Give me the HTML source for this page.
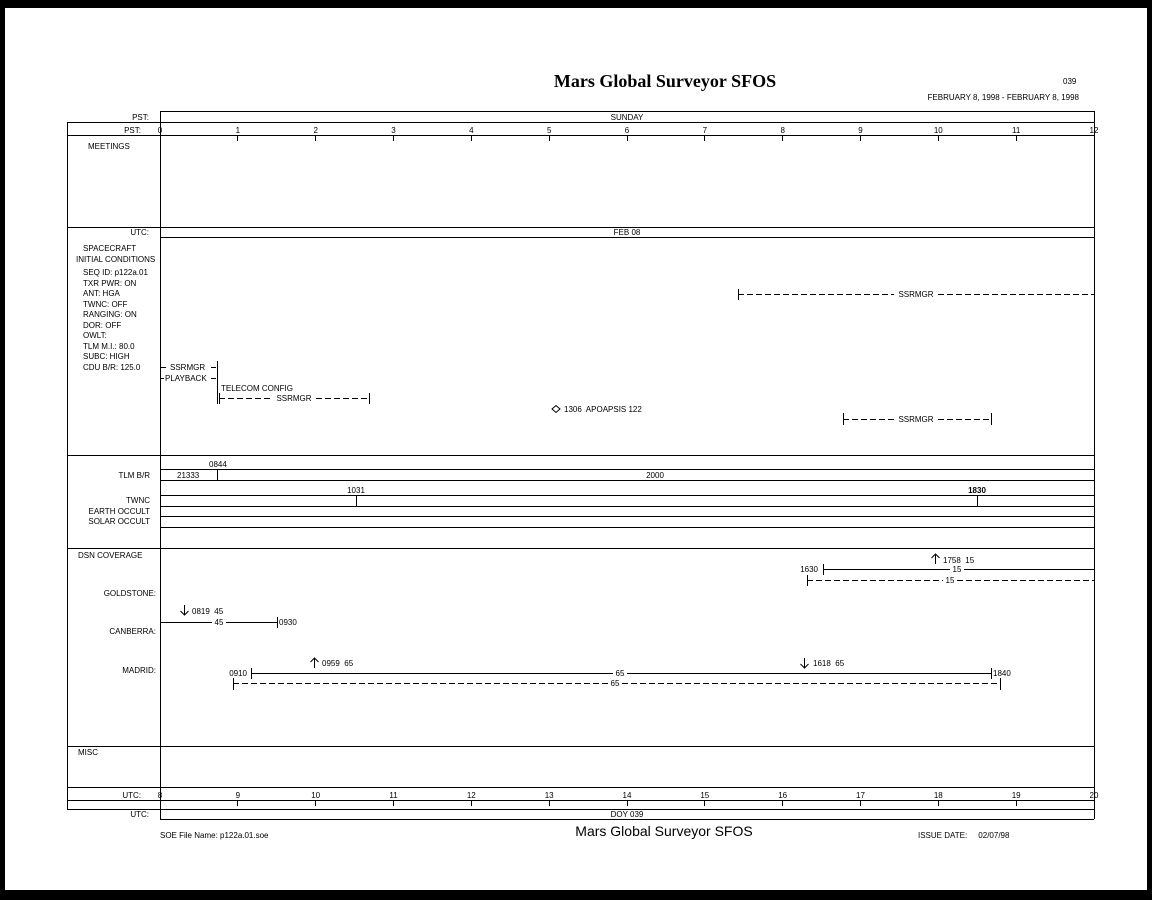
<!DOCTYPE html>
<html><head><meta charset="utf-8"><style>
html,body{margin:0;padding:0;background:#000;}
svg{display:block;}
text{font-family:"Liberation Sans",sans-serif;font-size:8px;fill:#000;white-space:pre;}
</style></head><body>
<svg width="1152" height="900" xmlns="http://www.w3.org/2000/svg" xml:space="preserve">
<rect x="0" y="0" width="1152" height="900" fill="#000"/>
<rect x="5" y="8" width="1142" height="882" fill="#fff"/>
<g stroke="#000" stroke-width="1" fill="none" shape-rendering="crispEdges">
<line x1="67" y1="122.5" x2="1094" y2="122.5"/>
<line x1="67" y1="135.5" x2="1094" y2="135.5"/>
<line x1="67" y1="227.5" x2="1094" y2="227.5"/>
<line x1="67" y1="455.5" x2="1094" y2="455.5"/>
<line x1="67" y1="548.5" x2="1094" y2="548.5"/>
<line x1="67" y1="746.5" x2="1094" y2="746.5"/>
<line x1="67" y1="787.5" x2="1094" y2="787.5"/>
<line x1="67" y1="800.5" x2="1094" y2="800.5"/>
<line x1="67" y1="809.5" x2="1094" y2="809.5"/>
<line x1="160" y1="111.5" x2="1094" y2="111.5"/>
<line x1="160" y1="237.5" x2="1094" y2="237.5"/>
<line x1="160" y1="819.5" x2="1094" y2="819.5"/>
<line x1="67.5" y1="122" x2="67.5" y2="809"/>
<line x1="160.5" y1="111" x2="160.5" y2="819"/>
<line x1="1094.5" y1="111" x2="1094.5" y2="819"/>
<line x1="237.5" y1="135" x2="237.5" y2="141"/><line x1="315.5" y1="135" x2="315.5" y2="141"/>
<line x1="393.5" y1="135" x2="393.5" y2="141"/><line x1="471.5" y1="135" x2="471.5" y2="141"/>
<line x1="549.5" y1="135" x2="549.5" y2="141"/><line x1="627.5" y1="135" x2="627.5" y2="141"/>
<line x1="704.5" y1="135" x2="704.5" y2="141"/><line x1="782.5" y1="135" x2="782.5" y2="141"/>
<line x1="860.5" y1="135" x2="860.5" y2="141"/><line x1="938.5" y1="135" x2="938.5" y2="141"/>
<line x1="1016.5" y1="135" x2="1016.5" y2="141"/>
<line x1="237.5" y1="800" x2="237.5" y2="806"/><line x1="315.5" y1="800" x2="315.5" y2="806"/>
<line x1="393.5" y1="800" x2="393.5" y2="806"/><line x1="471.5" y1="800" x2="471.5" y2="806"/>
<line x1="549.5" y1="800" x2="549.5" y2="806"/><line x1="627.5" y1="800" x2="627.5" y2="806"/>
<line x1="704.5" y1="800" x2="704.5" y2="806"/><line x1="782.5" y1="800" x2="782.5" y2="806"/>
<line x1="860.5" y1="800" x2="860.5" y2="806"/><line x1="938.5" y1="800" x2="938.5" y2="806"/>
<line x1="1016.5" y1="800" x2="1016.5" y2="806"/>
<line x1="160" y1="469.5" x2="1094" y2="469.5"/>
<line x1="160" y1="480.5" x2="1094" y2="480.5"/>
<line x1="217.5" y1="469" x2="217.5" y2="480"/>
<line x1="160" y1="495.5" x2="1094" y2="495.5"/>
<line x1="160" y1="506.5" x2="1094" y2="506.5"/>
<line x1="160" y1="516.5" x2="1094" y2="516.5"/>
<line x1="160" y1="527.5" x2="1094" y2="527.5"/>
<line x1="356.5" y1="495" x2="356.5" y2="506"/>
<line x1="977.5" y1="495" x2="977.5" y2="506"/>
<line x1="161" y1="367.5" x2="166" y2="367.5"/><line x1="211" y1="367.5" x2="216" y2="367.5"/>
<line x1="161" y1="378.5" x2="164" y2="378.5"/><line x1="211" y1="378.5" x2="216" y2="378.5"/>
<line x1="217.5" y1="361" x2="217.5" y2="404"/>
<line x1="219.5" y1="393" x2="219.5" y2="404"/><line x1="369.5" y1="393" x2="369.5" y2="404"/>
<line x1="219" y1="398.5" x2="273" y2="398.5" stroke-dasharray="6,3"/>
<line x1="316" y1="398.5" x2="369" y2="398.5" stroke-dasharray="6,3"/>
<line x1="738.5" y1="289" x2="738.5" y2="300"/>
<line x1="738" y1="294.5" x2="894" y2="294.5" stroke-dasharray="6,3"/>
<line x1="938" y1="294.5" x2="1094" y2="294.5" stroke-dasharray="6,3"/>
<line x1="843.5" y1="413" x2="843.5" y2="425"/><line x1="991.5" y1="413" x2="991.5" y2="425"/>
<line x1="843" y1="419.5" x2="895" y2="419.5" stroke-dasharray="6,3"/>
<line x1="938" y1="419.5" x2="991" y2="419.5" stroke-dasharray="6,3"/>
<line x1="823.5" y1="564" x2="823.5" y2="575"/>
<line x1="823" y1="569.5" x2="950" y2="569.5"/><line x1="964" y1="569.5" x2="1094" y2="569.5"/>
<line x1="807.5" y1="575" x2="807.5" y2="586"/>
<line x1="807" y1="580.5" x2="943" y2="580.5" stroke-dasharray="6,3"/>
<line x1="957" y1="580.5" x2="1094" y2="580.5" stroke-dasharray="6,3"/>
<line x1="160" y1="622.5" x2="212" y2="622.5"/><line x1="226" y1="622.5" x2="277" y2="622.5"/>
<line x1="277.5" y1="617" x2="277.5" y2="628"/>
<line x1="251.5" y1="668" x2="251.5" y2="679"/><line x1="991.5" y1="668" x2="991.5" y2="679"/>
<line x1="251" y1="673.5" x2="613" y2="673.5"/><line x1="627" y1="673.5" x2="991" y2="673.5"/>
<line x1="233.5" y1="678" x2="233.5" y2="690"/><line x1="1000.5" y1="678" x2="1000.5" y2="690"/>
<line x1="233" y1="683.5" x2="608" y2="683.5" stroke-dasharray="6,3"/>
<line x1="622" y1="683.5" x2="1000" y2="683.5" stroke-dasharray="6,3"/>
</g>
<g stroke="#000" stroke-width="1" fill="none">
<path d="M935.5 555 V564 M931.5 558 L935.5 554 L939.5 558"/>
<path d="M184.5 605 V615 M180.5 611 L184.5 615 L188.5 611"/>
<path d="M314.5 658 V668 M310.5 662 L314.5 658 L318.5 662"/>
<path d="M804.5 658 V668 M800.5 664 L804.5 668 L808.5 664"/>
<path d="M552 409 L556 405.5 L560 409 L556 412.5 Z"/>
</g>
<text x="665" y="87" text-anchor="middle" style="font-family:'Liberation Serif',serif;font-size:18px;font-weight:bold">Mars Global Surveyor SFOS</text>
<text x="1063" y="84">039</text>
<text x="1079" y="100" text-anchor="end">FEBRUARY 8, 1998 - FEBRUARY 8, 1998</text>
<text x="149" y="120" text-anchor="end">PST:</text>
<text x="627" y="120" text-anchor="middle">SUNDAY</text>
<text x="141" y="133" text-anchor="end">PST:</text>
<g text-anchor="middle">
<text x="160" y="133">0</text><text x="237.8" y="133">1</text><text x="315.7" y="133">2</text><text x="393.5" y="133">3</text>
<text x="471.3" y="133">4</text><text x="549.2" y="133">5</text><text x="627" y="133">6</text><text x="704.8" y="133">7</text>
<text x="782.7" y="133">8</text><text x="860.5" y="133">9</text><text x="938.3" y="133">10</text><text x="1016.2" y="133">11</text><text x="1094" y="133">12</text>
<text x="160" y="798">8</text><text x="237.8" y="798">9</text><text x="315.7" y="798">10</text><text x="393.5" y="798">11</text>
<text x="471.3" y="798">12</text><text x="549.2" y="798">13</text><text x="627" y="798">14</text><text x="704.8" y="798">15</text>
<text x="782.7" y="798">16</text><text x="860.5" y="798">17</text><text x="938.3" y="798">18</text><text x="1016.2" y="798">19</text><text x="1094" y="798">20</text>
</g>
<text x="88" y="149">MEETINGS</text>
<text x="149" y="235" text-anchor="end">UTC:</text>
<text x="627" y="235" text-anchor="middle">FEB 08</text>
<text x="83" y="251">SPACECRAFT</text>
<text x="76" y="262">INITIAL CONDITIONS</text>
<text x="83" y="275">SEQ ID: p122a.01</text>
<text x="83" y="286">TXR PWR: ON</text>
<text x="83" y="296">ANT: HGA</text>
<text x="83" y="307">TWNC: OFF</text>
<text x="83" y="317">RANGING: ON</text>
<text x="83" y="328">DOR: OFF</text>
<text x="83" y="338">OWLT:</text>
<text x="83" y="349">TLM M.I.: 80.0</text>
<text x="83" y="359">SUBC: HIGH</text>
<text x="83" y="370">CDU B/R: 125.0</text>
<text x="170" y="370">SSRMGR</text>
<text x="165" y="381">PLAYBACK</text>
<text x="221" y="391">TELECOM CONFIG</text>
<text x="294" y="401" text-anchor="middle">SSRMGR</text>
<text x="916" y="297" text-anchor="middle">SSRMGR</text>
<text x="916" y="422" text-anchor="middle">SSRMGR</text>
<text x="564" y="412">1306  APOAPSIS 122</text>
<text x="209" y="467">0844</text>
<text x="150" y="478" text-anchor="end">TLM B/R</text>
<text x="177" y="478">21333</text>
<text x="655" y="478" text-anchor="middle">2000</text>
<text x="356" y="493" text-anchor="middle">1031</text>
<text x="977" y="493" text-anchor="middle" font-weight="bold">1830</text>
<text x="150" y="503" text-anchor="end">TWNC</text>
<text x="150" y="514" text-anchor="end">EARTH OCCULT</text>
<text x="150" y="524" text-anchor="end">SOLAR OCCULT</text>
<text x="78" y="558">DSN COVERAGE</text>
<text x="156" y="596" text-anchor="end">GOLDSTONE:</text>
<text x="156" y="634" text-anchor="end">CANBERRA:</text>
<text x="156" y="673" text-anchor="end">MADRID:</text>
<text x="943" y="563">1758  15</text>
<text x="818" y="572" text-anchor="end">1630</text>
<text x="957" y="572" text-anchor="middle">15</text>
<text x="950" y="583" text-anchor="middle">15</text>
<text x="192" y="614">0819  45</text>
<text x="219" y="625" text-anchor="middle">45</text>
<text x="279" y="625">0930</text>
<text x="322" y="666">0959  65</text>
<text x="813" y="666">1618  65</text>
<text x="247" y="676" text-anchor="end">0910</text>
<text x="620" y="676" text-anchor="middle">65</text>
<text x="993" y="676">1840</text>
<text x="615" y="686" text-anchor="middle">65</text>
<text x="78" y="755">MISC</text>
<text x="141" y="798" text-anchor="end">UTC:</text>
<text x="149" y="817" text-anchor="end">UTC:</text>
<text x="627" y="817" text-anchor="middle">DOY 039</text>
<text x="160" y="838">SOE File Name: p122a.01.soe</text>
<text x="664" y="836" text-anchor="middle" style="font-size:14px">Mars Global Surveyor SFOS</text>
<text x="918" y="838">ISSUE DATE:     02/07/98</text>
</svg>
</body></html>
